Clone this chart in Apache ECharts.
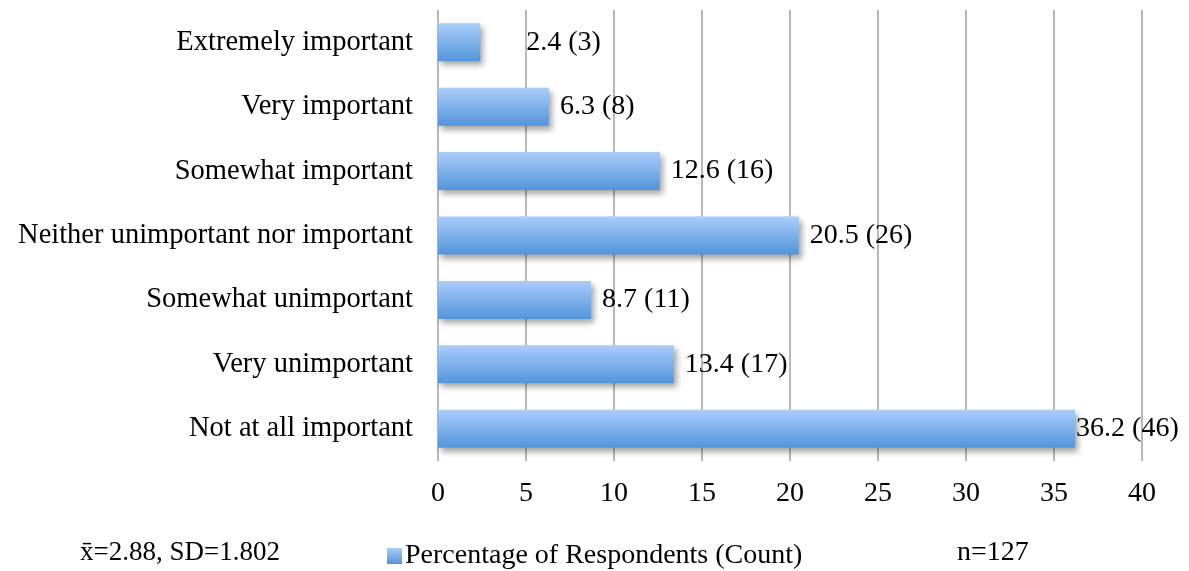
<!DOCTYPE html>
<html>
<head>
<meta charset="utf-8">
<script src="https://cdn.jsdelivr.net/npm/echarts@6/dist/echarts.min.js"></script>
<style>
  html, body { margin: 0; padding: 0; background: #fff; }
  #chart { width: 1189px; height: 571px; }
</style>
</head>
<body>
<div id="chart"></div>
<script>
// data
const categories = [
  "Extremely important",
  "Very important",
  "Somewhat important",
  "Neither unimportant nor important",
  "Somewhat unimportant",
  "Very unimportant",
  "Not at all important"
];
const percents = [2.4, 6.3, 12.6, 20.5, 8.7, 13.4, 36.2];
const counts = [3, 8, 16, 26, 11, 17, 46];
const seriesName = "Percentage of Respondents (Count)";
const statsNote = "x\u0304=2.88, SD=1.802";
const sampleNote = "n=127";

const font = "'Liberation Serif', serif";
const barGradient = new echarts.graphic.LinearGradient(0, 0, 0, 1, [
  { offset: 0, color: "#a9cdfb" },
  { offset: 1, color: "#5394da" }
]);

const chart = echarts.init(document.getElementById("chart"));
chart.setOption({
  animation: false,
  textStyle: { fontFamily: font, color: "#000" },
  grid: { left: 438, right: 47, top: 10, height: 451 },
  xAxis: {
    type: "value",
    min: 0,
    max: 40,
    interval: 5,
    axisLine: { show: false },
    axisTick: { show: true, length: 0 },
    splitLine: { lineStyle: { color: "#a0a0a0", width: 1.5 } },
    axisLabel: { fontSize: 28, color: "#000", margin: 19, fontFamily: font }
  },
  yAxis: {
    type: "category",
    data: categories,
    inverse: true,
    axisLine: { show: false },
    axisTick: { show: false },
    axisLabel: { fontSize: 28.5, color: "#000", margin: 25, fontFamily: font }
  },
  legend: {
    left: 382,
    top: 537,
    itemWidth: 15,
    itemHeight: 16,
    icon: "rect",
    itemStyle: { borderWidth: 0, shadowBlur: 0 },
    itemGap: 8,
    textStyle: { fontSize: 28, color: "#000", fontFamily: font, padding: [0, 0, 0, -2] },
    data: [seriesName]
  },
  graphic: [
    { type: "text", left: 80, top: 539, style: { text: statsNote, font: "27px " + font, fill: "#000" } },
    { type: "text", left: 957, top: 539, style: { text: sampleNote, font: "28px " + font, fill: "#000" } }
  ],
  series: [
    {
      type: "bar",
      name: seriesName,
      barWidth: 38,
      itemStyle: {
        color: barGradient,
        shadowColor: "rgba(0,0,0,0.35)",
        shadowBlur: 6,
        shadowOffsetX: 3,
        shadowOffsetY: 4
      },
      label: {
        show: true,
        position: "right",
        distance: 11,
        fontSize: 28,
        color: "#000",
        fontFamily: font,
        formatter: p => percents[p.dataIndex] + " (" + counts[p.dataIndex] + ")"
      },
      data: percents.map((v, i) => {
        if (i === 0) return { value: v, label: { distance: 46 } };
        if (i === percents.length - 1) return { value: v, label: { distance: 1 } };
        return v;
      })
    }
  ]
});
</script>
</body>
</html>
